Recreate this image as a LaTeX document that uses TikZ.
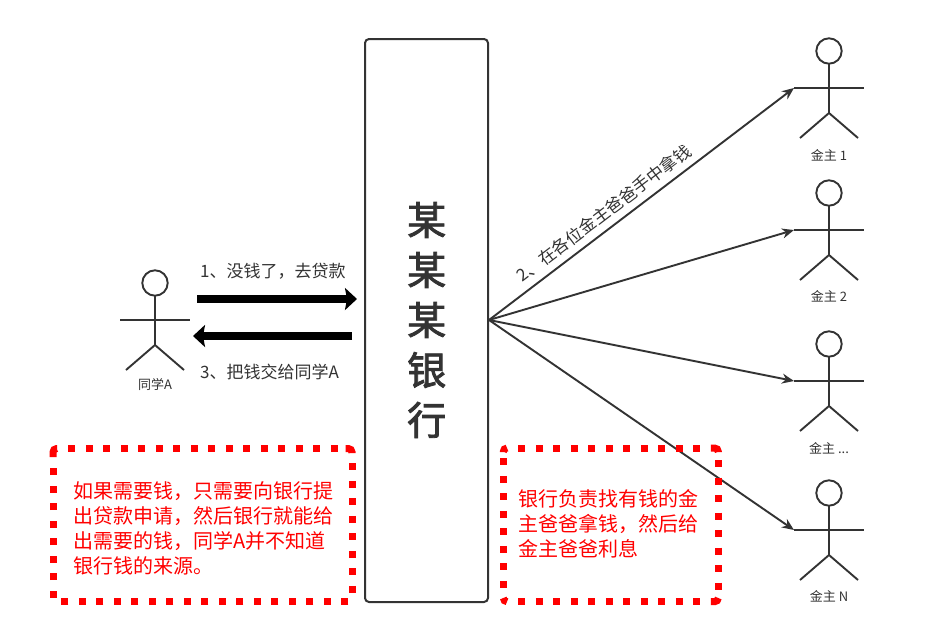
\documentclass[tikz,border=0pt]{standalone}
\usepackage{fontspec}
\setmainfont{Noto Sans CJK SC}
\newfontfamily\bankfont[FakeBold=2.2]{Noto Sans CJK SC}
\usetikzlibrary{arrows.meta}
\definecolor{ink}{HTML}{333333}
\tikzset{
  figline/.style={draw=ink,line width=1.9pt},
  figlabel/.style={font=\fontsize{13}{15}\selectfont,text=ink,inner sep=0pt,anchor=center},
  bank/.style={draw=ink,line width=2pt,rounded corners=4pt,fill=white},
  banktext/.style={font=\fontsize{39}{50}\bankfont,text=ink,align=center,inner sep=0pt},
  link/.style={draw=ink,line width=1.9pt,-{Stealth[length=12pt,width=10pt]}},
  fat/.style={draw=black,line width=8pt,-{Stealth[length=12pt,width=22pt,inset=2pt]}},
  notedash/.style={draw=red,line width=7pt,dash pattern=on 7pt off 10.5pt},
  notecorner/.style={draw=red,line width=7pt,rounded corners=3.7pt},
  notetext/.style={font=\fontsize{20}{25}\selectfont,text=red,align=left,inner sep=0pt,anchor=north west},
  msg/.style={font=\fontsize{17}{20}\selectfont,text=ink,inner sep=0pt},
}
\newcommand{\stickfig}[3]{%
  \coordinate (#1) at (#2,#3);
  \coordinate (#1arm) at (#2-35,#3);
  \draw[figline] (#2,#3-37) circle[radius=12.7];
  \draw[figline] (#2,#3-24.3) -- (#2,#3+25);
  \draw[figline] (#1arm) -- (#2+35,#3);
  \draw[figline] (#2-29,#3+50) -- (#2,#3+25) -- (#2+29,#3+50);
}
\begin{document}
\begin{tikzpicture}[x=1pt,y=-1pt]
\useasboundingbox (0,0) rectangle (925,640);
\fill[white] (0,0) rectangle (925,640);
\stickfig{a}{155}{320}
\node[figlabel] (alabel) at (155,385) {同学A};
\stickfig{f1}{829}{88}
\node[figlabel] (f1label) at (829,155) {金主 1};
\stickfig{f2}{829}{230}
\node[figlabel] (f2label) at (829,296) {金主 2};
\stickfig{f3}{829}{381}
\node[figlabel] (f3label) at (829,448) {金主 ...};
\stickfig{f4}{829}{530}
\node[figlabel] (f4label) at (829,596) {金主 N};
\draw[bank] (365,39) rectangle (488,602);
\coordinate (bankright) at (489,320);
\coordinate (bankleftup) at (357,299);
\coordinate (bankleftdown) at (352,336);
\coordinate (aup) at (197,299);
\coordinate (adown) at (193,336);
\node[banktext] (banklabel) at (426.7,320) {某\\某\\某\\银\\行};
\draw[link] (bankright) -- (f1arm);
\draw[link] (bankright) -- (f2arm);
\draw[link] (bankright) -- (f3arm);
\draw[link] (bankright) -- (f4arm);
\draw[fat] (aup) -- (bankleftup);
\draw[fat] (bankleftdown) -- (adown);
\node[msg,anchor=west] (m1) at (200,271) {1、没钱了，去贷款};
\node[msg,anchor=west] (m3) at (200,372) {3、把钱交给同学A};
\node[msg,rotate=37.2] (m2) at (604,213) {2、在各位金主爸爸手中拿钱};
% left note
\draw[notedash] (68.3,448.5) -- (340,448.5);
\draw[notecorner] (345.5,448.5) -- (352,448.5) -- (352,453);
\draw[notedash] (352,463.3) -- (352,594);
\draw[notedash] (348.3,601.5) -- (60,601.5);
\draw[notedash] (53,597.7) -- (53,467);
\draw[notecorner] (53,457) -- (53,448.5) -- (57,448.5);
\node[notetext] (n1) at (73,481) {如果需要钱，只需要向银行提\\出贷款申请，然后银行就能给\\出需要的钱，同学A并不知道\\银行钱的来源。};
% right note
\draw[notedash] (518.3,448) -- (702,448);
\draw[notecorner] (503.3,452) -- (503.3,448) -- (507,448);
\draw[notecorner] (710.8,448) -- (718.3,448) -- (718.3,452);
\draw[notedash] (503.3,458.3) -- (503.3,590);
\draw[notedash] (718.3,460) -- (718.3,592);
\draw[notecorner] (503.3,598) -- (503.3,601.7) -- (507,601.7);
\draw[notedash] (518.3,601.7) -- (702,601.7);
\draw[notecorner] (710.8,601.7) -- (718.3,601.7) -- (718.3,598);
\node[notetext] (n2) at (518,489) {银行负责找有钱的金\\主爸爸拿钱，然后给\\金主爸爸利息};
\end{tikzpicture}
\end{document}
